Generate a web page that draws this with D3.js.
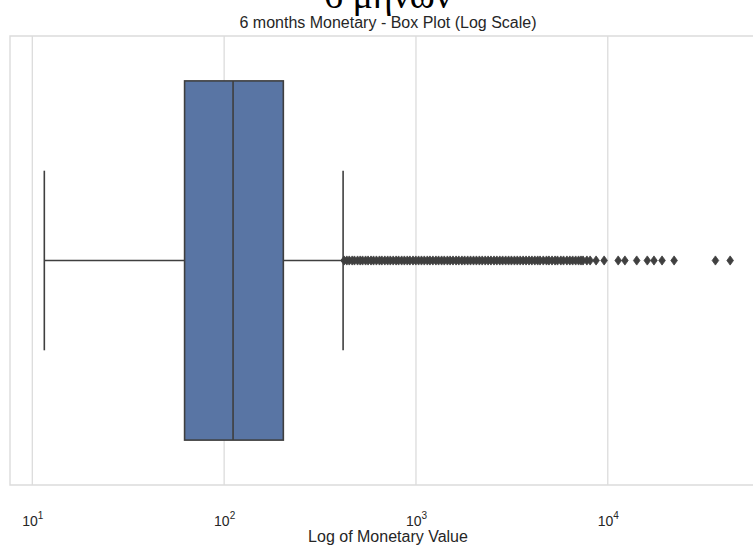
<!DOCTYPE html>
<html>
<head>
<meta charset="utf-8">
<script src="https://cdn.jsdelivr.net/npm/d3@7"></script>
<style>
  html, body { margin: 0; padding: 0; background: #ffffff; }
  svg { display: block; }
</style>
</head>
<body>
<svg id="chart" width="753" height="545"></svg>
<script>
// Box plot summary for six-month monetary value
const categories = ["6 months Monetary"];
const quartiles = [62.2, 111.3, 203.5];      // Q1, median, Q3
const whiskers = [11.55, 417];               // lower, upper whisker ends
const outliers = [
  422, 436, 449, 465, 478, 496, 512, 527, 546, 563, 583, 601, 622, 645, 664,
  688, 712, 735, 761, 788, 812, 842, 870, 901, 930, 965, 998, 1032, 1068, 1105,
  1146, 1183, 1225, 1270, 1312, 1360, 1405, 1458, 1507, 1560, 1618, 1672, 1735,
  1794, 1860, 1925, 1995, 2066, 2140, 2215, 2296, 2378, 2460, 2552, 2640, 2735,
  2830, 2935, 3040, 3145, 3260, 3375, 3495, 3620, 3750, 3885, 4020, 4165, 4310,
  4436, 4610, 4790, 4935, 5120, 5310, 5470, 5690, 5880, 6120, 6340, 6560, 6800,
  7040, 7250, 7430, 7780, 8090, 8690, 9570, 11330, 12280, 14150, 16070, 17410,
  19180, 22170, 36400, 43450
];
const tickValues = [10, 100, 1000, 10000];
const tickExponents = ["1", "2", "3", "4"];

const svg = d3.select("#chart");
const plot = { left: 10, right: 766, top: 36, bottom: 485 };

const x = d3.scaleLog().domain([7.65, 66800]).range([plot.left, plot.right]);
const y = d3.scaleLinear().domain([-0.5, 0.5]).range([plot.top, plot.bottom]);
const band = d3.scaleBand().domain(categories).range([-0.5, 0.5]);

const gridColor = "#dcdcdc";
const lineColor = "#3f3f3f";
const boxFill = "#5975a4";

// vertical grid lines at decades
svg.append("g").selectAll("line").data(tickValues).join("line")
  .attr("x1", d => x(d)).attr("x2", d => x(d))
  .attr("y1", plot.top).attr("y2", plot.bottom)
  .attr("stroke", gridColor).attr("stroke-width", 1.3);

// frame (left, top, bottom spines)
svg.append("path")
  .attr("d", `M${plot.right},${plot.top}H${plot.left}V${plot.bottom}H${plot.right}`)
  .attr("fill", "none").attr("stroke", gridColor).attr("stroke-width", 1.4);

const g = svg.append("g");
categories.forEach(cat => {
  const c = band(cat) + band.bandwidth() / 2;
  const halfBox = 0.4, halfCap = 0.2;

  // whisker stems
  g.append("line").attr("x1", x(whiskers[0])).attr("x2", x(quartiles[0]))
    .attr("y1", y(c)).attr("y2", y(c)).attr("stroke", lineColor).attr("stroke-width", 1.6);
  g.append("line").attr("x1", x(quartiles[2])).attr("x2", x(whiskers[1]))
    .attr("y1", y(c)).attr("y2", y(c)).attr("stroke", lineColor).attr("stroke-width", 1.6);
  // caps
  whiskers.forEach(w => {
    g.append("line").attr("x1", x(w)).attr("x2", x(w))
      .attr("y1", y(c - halfCap)).attr("y2", y(c + halfCap))
      .attr("stroke", lineColor).attr("stroke-width", 1.6);
  });
  // box
  g.append("rect")
    .attr("x", x(quartiles[0])).attr("width", x(quartiles[2]) - x(quartiles[0]))
    .attr("y", y(c - halfBox)).attr("height", y(c + halfBox) - y(c - halfBox))
    .attr("fill", boxFill).attr("stroke", lineColor).attr("stroke-width", 1.6);
  // median
  g.append("line").attr("x1", x(quartiles[1])).attr("x2", x(quartiles[1]))
    .attr("y1", y(c - halfBox)).attr("y2", y(c + halfBox))
    .attr("stroke", lineColor).attr("stroke-width", 1.6);
  // outliers as thin diamonds
  g.append("g").selectAll("path").data(outliers).join("path")
    .attr("transform", d => `translate(${x(d)},${y(c)})`)
    .attr("d", "M0,-4.6L3.3,0L0,4.6L-3.3,0Z")
    .attr("fill", lineColor).attr("stroke", lineColor).attr("stroke-width", 0.8);
});

// bottom axis with power-of-ten labels
const axis = d3.axisBottom(x).tickValues(tickValues).tickSize(0).tickPadding(0).tickFormat(() => "");
const ax = svg.append("g").attr("transform", `translate(0,${plot.bottom})`).call(axis);
ax.select(".domain").remove();
ax.selectAll(".tick").each(function(d, i) {
  const t = d3.select(this).append("text")
    .attr("y", 41).attr("fill", "#262626")
    .attr("font-family", "Liberation Sans, Arial, sans-serif")
    .attr("font-size", 14).attr("text-anchor", "middle");
  t.append("tspan").text("10");
  t.append("tspan").attr("font-size", 10).attr("dy", -7).text(tickExponents[i]);
});

// axis label
svg.append("text").attr("x", (plot.left + plot.right) / 2).attr("y", 542)
  .attr("text-anchor", "middle").attr("fill", "#262626")
  .attr("font-family", "Liberation Sans, Arial, sans-serif").attr("font-size", 16)
  .text("Log of Monetary Value");

// title
svg.append("text").attr("x", (plot.left + plot.right) / 2).attr("y", 28)
  .attr("text-anchor", "middle").attr("fill", "#262626")
  .attr("font-family", "Liberation Sans, Arial, sans-serif").attr("font-size", 16)
  .text("6 months Monetary - Box Plot (Log Scale)");

// figure heading
svg.append("text").attr("x", (plot.left + plot.right) / 2).attr("y", 8)
  .attr("text-anchor", "middle").attr("fill", "#000000")
  .attr("font-family", "Liberation Serif, Times New Roman, serif").attr("font-size", 38)
  .text("6 μηνών");
</script>
</body>
</html>
